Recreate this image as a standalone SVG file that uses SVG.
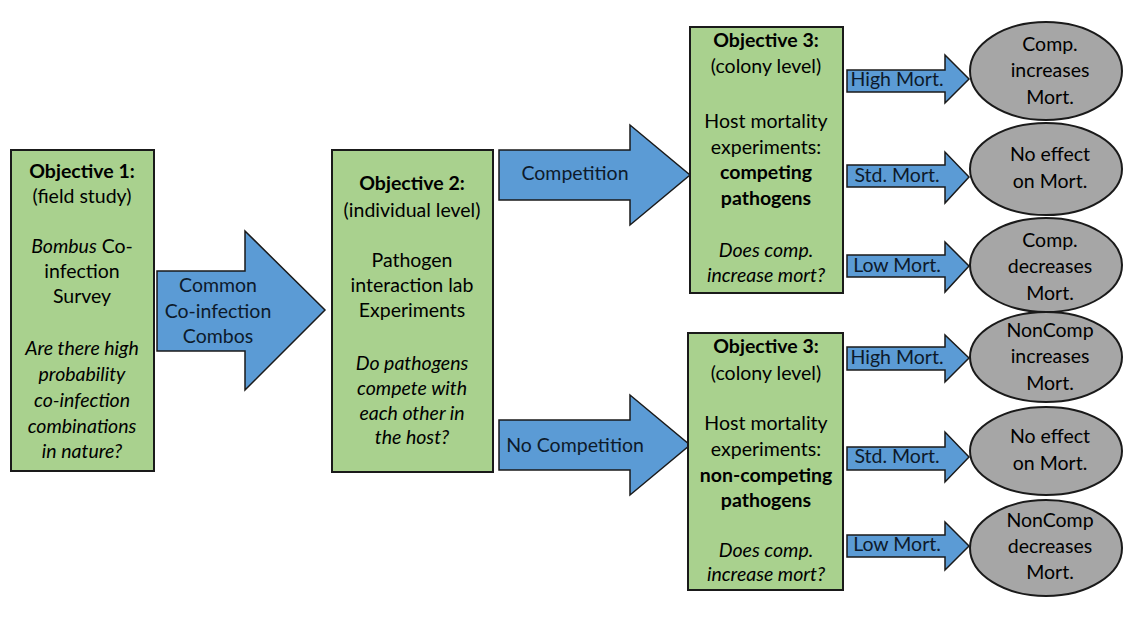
<svg xmlns="http://www.w3.org/2000/svg" width="1125" height="625" viewBox="0 0 1125 625">
<style>
.box{fill:#A9D18E;stroke:#1a1a1a;stroke-width:2}
.arr{fill:#5B9BD5;stroke:#1a1a1a;stroke-width:1.5;stroke-linejoin:miter}
.ell{fill:#A6A6A6;stroke:#1a1a1a;stroke-width:2}
text{font-family:Lato,"Liberation Sans",sans-serif;font-size:19.5px;fill:#000;text-anchor:middle}
.b{font-weight:bold}
.i{font-style:italic}
.at{fill:#0d1a2b}
</style>
<rect width="1125" height="625" fill="#fff"/>
<g id="connectors">
<polygon class="arr" points="157,271 245,271 245,231 325,310 245,390 245,351 157,351"/>
<polygon class="arr" points="499,150 630,150 630,125 690,175 630,225 630,200 499,200"/>
<polygon class="arr" points="499,420 630,420 630,395 690,445 630,495 630,470 499,470"/>
<polygon class="arr" points="847,70 945,70 945,55 969,79 945,103 945,92 847,92"/>
<polygon class="arr" points="847,165 945,165 945,152 969,177 945,203 945,187 847,187"/>
<polygon class="arr" points="847,255 945,255 945,242 969,266 945,292 945,277 847,277"/>
<polygon class="arr" points="847,347 945,347 945,335 969,358 945,382 945,370 847,370"/>
<polygon class="arr" points="847,447 945,447 945,432 969,457 945,482 945,470 847,470"/>
<polygon class="arr" points="847,535 945,535 945,522 969,546 945,570 945,557 847,557"/>
<text class="at" x="218" y="292">Common</text>
<text class="at" x="218" y="318">Co-infection</text>
<text class="at" x="218" y="343">Combos</text>
<text class="at" x="575" y="180">Competition</text>
<text class="at" x="575" y="452">No Competition</text>
<text class="at" x="897" y="86">High Mort.</text>
<text class="at" x="897" y="182">Std. Mort.</text>
<text class="at" x="897" y="272">Low Mort.</text>
<text class="at" x="897" y="364">High Mort.</text>
<text class="at" x="897" y="463">Std. Mort.</text>
<text class="at" x="897" y="551">Low Mort.</text>
</g>
<g id="obj1">
<rect class="box" x="11" y="150" width="143" height="321"/>
<text class="b" x="82" y="178">Objective 1:</text>
<text x="82" y="203">(field study)</text>
<text x="82" y="253"><tspan class="i">Bombus</tspan> Co-</text>
<text x="82" y="278">infection</text>
<text x="82" y="303">Survey</text>
<text class="i" x="82" y="355">Are there high</text>
<text class="i" x="82" y="381">probability</text>
<text class="i" x="82" y="407">co-infection</text>
<text class="i" x="82" y="433">combinations</text>
<text class="i" x="82" y="458">in nature?</text>
</g>
<g id="obj2">
<rect class="box" x="332" y="150" width="161" height="322"/>
<text class="b" x="412" y="190">Objective 2:</text>
<text x="412" y="217">(individual level)</text>
<text x="412" y="267">Pathogen</text>
<text x="412" y="292">interaction lab</text>
<text x="412" y="317">Experiments</text>
<text class="i" x="412" y="370">Do pathogens</text>
<text class="i" x="412" y="395">compete with</text>
<text class="i" x="412" y="420">each other in</text>
<text class="i" x="412" y="444">the host?</text>
</g>
<g id="obj3a">
<rect class="box" x="690" y="27" width="153" height="266"/>
<text class="b" x="766" y="47">Objective 3:</text>
<text x="766" y="73">(colony level)</text>
<text x="766" y="128">Host mortality</text>
<text x="766" y="154">experiments:</text>
<text class="b" x="766" y="179">competing</text>
<text class="b" x="766" y="205">pathogens</text>
<text class="i" x="766" y="257">Does comp.</text>
<text class="i" x="766" y="282">increase mort?</text>
</g>
<g id="obj3b">
<rect class="box" x="688" y="333" width="155" height="257"/>
<text class="b" x="766" y="353">Objective 3:</text>
<text x="766" y="380">(colony level)</text>
<text x="766" y="430">Host mortality</text>
<text x="766" y="456">experiments:</text>
<text class="b" x="766" y="482">non-competing</text>
<text class="b" x="766" y="507">pathogens</text>
<text class="i" x="766" y="557">Does comp.</text>
<text class="i" x="766" y="581">increase mort?</text>
</g>
<g id="res1">
<ellipse class="ell" cx="1046" cy="71" rx="76" ry="49"/>
<text x="1050" y="51">Comp.</text>
<text x="1050" y="77">increases</text>
<text x="1050" y="104">Mort.</text>
</g>
<g id="res2">
<ellipse class="ell" cx="1046" cy="169" rx="76" ry="46"/>
<text x="1050" y="161">No effect</text>
<text x="1050" y="188">on Mort.</text>
</g>
<g id="res3">
<ellipse class="ell" cx="1046" cy="265" rx="76" ry="47"/>
<text x="1050" y="247">Comp.</text>
<text x="1050" y="273">decreases</text>
<text x="1050" y="300">Mort.</text>
</g>
<g id="res4">
<ellipse class="ell" cx="1046" cy="357" rx="76" ry="45"/>
<text x="1050" y="337">NonComp</text>
<text x="1050" y="363">increases</text>
<text x="1050" y="390">Mort.</text>
</g>
<g id="res5">
<ellipse class="ell" cx="1046" cy="451" rx="76" ry="44"/>
<text x="1050" y="443">No effect</text>
<text x="1050" y="470">on Mort.</text>
</g>
<g id="res6">
<ellipse class="ell" cx="1046" cy="548" rx="76" ry="48"/>
<text x="1050" y="527">NonComp</text>
<text x="1050" y="553">decreases</text>
<text x="1050" y="579">Mort.</text>
</g>
</svg>
